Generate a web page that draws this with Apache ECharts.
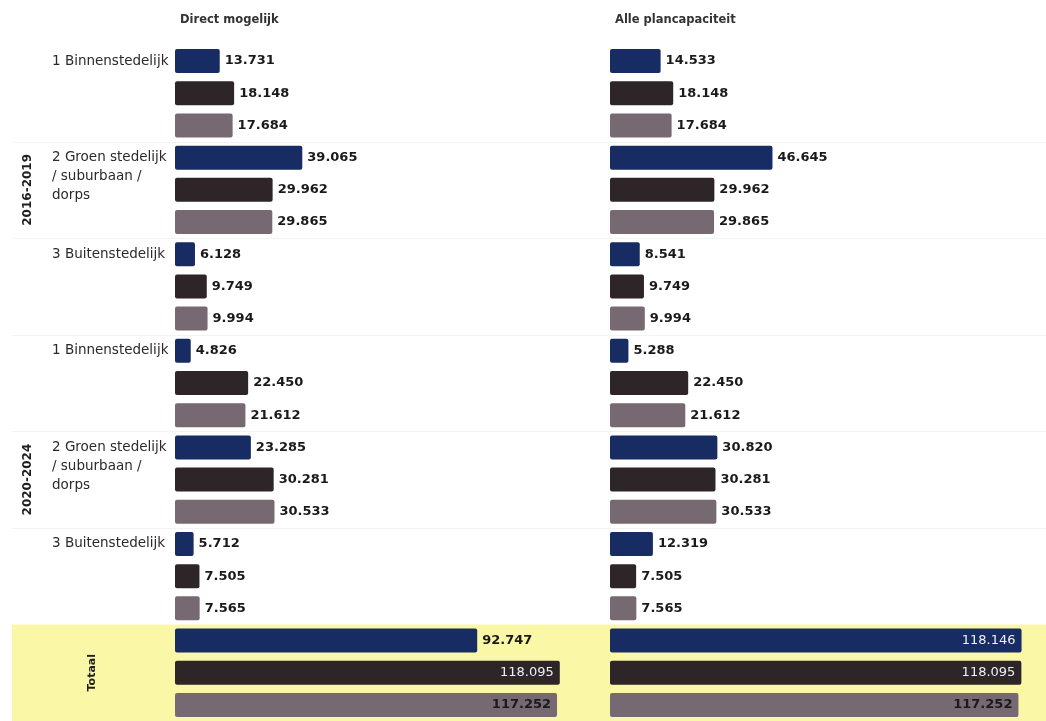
<!DOCTYPE html>
<html>
<head>
<meta charset="utf-8">
<script src="https://cdn.jsdelivr.net/npm/echarts@6/dist/echarts.min.js"></script>
<style>
  html, body { margin: 0; padding: 0; background: #ffffff; }
  #chart { width: 1046px; height: 721px; }
</style>
</head>
<body>
<div id="chart"></div>
<script>
// Perioden en woonmilieus (rijgroepen)
const periods = ['2016-2019', '2020-2024'];
const totalLabel = 'Totaal';
const woonmilieus = ['1 Binnenstedelijk', '2 Groen stedelijk\n/ suburbaan /\ndorps', '3 Buitenstedelijk'];
const panelTitles = ['Direct mogelijk', 'Alle plancapaciteit'];

// Waarden per rijgroep: 3 woonmilieus x 2 perioden, daarna het totaal
const directBlue  = [13731, 39065, 6128, 4826, 23285, 5712, 92747];
const directDark  = [18148, 29962, 9749, 22450, 30281, 7505, 118095];
const directMauve = [17684, 29865, 9994, 21612, 30533, 7565, 117252];
const planBlue    = [14533, 46645, 8541, 5288, 30820, 12319, 118146];
const planDark    = [18148, 29962, 9749, 22450, 30281, 7505, 118095];
const planMauve   = [17684, 29865, 9994, 21612, 30533, 7565, 117252];

const barColors = ['#162c62', '#2d2527', '#766971'];
// Totaalbalken met het label binnen de balk
const insideTotal = [[false, true, true], [true, true, true]];

const FONT = 'DejaVu Sans';
const groupCount = periods.length * woonmilieus.length + 1;
const rowCount = groupCount * 3;
const rows = Array.from({ length: rowCount }, (_, i) => 'r' + i);

function fmt(v) {
  return String(v).replace(/\B(?=(\d{3})+(?!\d))/g, '.');
}

function rowLabel(index) {
  if (index % 3 !== 0) return '';
  const g = Math.floor(index / 3);
  if (g >= periods.length * woonmilieus.length) return '';
  const name = woonmilieus[g % woonmilieus.length];
  const lines = name.split('\n').length;
  // extra lege regels zodat de eerste regel op de balk uitlijnt
  return '\n'.repeat(lines - 1) + name;
}

const panels = [
  { values: [directBlue, directDark, directMauve], left: 175, width: 391 },
  { values: [planBlue, planDark, planMauve], left: 610, width: 418 }
];

const grids = panels.map(p => ({ left: p.left, width: p.width, top: 45, height: 679 }));

const xAxes = panels.map((p, i) => ({
  type: 'value', gridIndex: i, min: 0, max: 120000, show: false
}));

const yAxes = panels.map((p, i) => ({
  type: 'category', gridIndex: i, data: rows, inverse: true,
  axisLine: { show: false }, axisTick: { show: false }, splitLine: { show: false },
  axisLabel: i === 0 ? {
    show: true, interval: 0, align: 'left', margin: 123,
    fontFamily: FONT, fontSize: 13.5, color: '#2a2a2a', lineHeight: 19,
    formatter: (v, idx) => rowLabel(idx)
  } : { show: false }
}));

const series = [];
panels.forEach((p, pi) => {
  p.values.forEach((vals, k) => {
    const data = rows.map((_, i) => {
      if (i % 3 !== k) return '-';
      const g = Math.floor(i / 3);
      const v = vals[g];
      if (g === groupCount - 1 && insideTotal[pi][k]) {
        const bold = k === 2;
        return {
          value: v,
          label: {
            position: 'insideRight', distance: 6,
            color: bold ? '#1a1a1a' : '#eef0f4',
            fontWeight: bold ? 'bold' : 'normal'
          }
        };
      }
      return v;
    });
    series.push({
      type: 'bar', xAxisIndex: pi, yAxisIndex: pi,
      data: data, barWidth: 24, barGap: '-100%',
      itemStyle: { color: barColors[k], borderRadius: 2 },
      label: {
        show: true, position: 'right', distance: 5,
        fontFamily: FONT, fontSize: 13, fontWeight: 'bold', color: '#1a1a1a',
        formatter: prm => fmt(prm.value)
      },
      z: 3
    });
  });
});

const chart = echarts.init(document.getElementById('chart'), null, { renderer: 'canvas' });
chart.setOption({
  animation: false,
  backgroundColor: '#ffffff',
  title: panelTitles.map((t, i) => ({
    text: t, left: panels[i].left, top: 9,
    textStyle: { fontFamily: FONT, fontSize: 11.5, fontWeight: 'bold', color: '#333' }
  })),
  grid: grids, xAxis: xAxes, yAxis: yAxes, series: series
});

// Achtergrondvlak, scheidingslijnen en periodelabels uit de rijposities
const rowY = i => chart.convertToPixel({ yAxisIndex: 0 }, rows[i]);
const pitch = rowY(1) - rowY(0);
const graphics = [];
const totalTop = rowY((groupCount - 1) * 3) - pitch / 2;
graphics.push({
  type: 'rect', z: -10, silent: true,
  shape: { x: 12, y: totalTop, width: 1046 - 12, height: 721 - totalTop + 5 },
  style: { fill: '#faf7a6' }
});
for (let g = 1; g < groupCount - 1; g++) {
  const y = Math.round(rowY(g * 3) - pitch / 2) + 0.5;
  graphics.push({
    type: 'line', z: -5, silent: true,
    shape: { x1: 12, y1: y, x2: 1046, y2: y },
    style: { stroke: '#f3f3f3', lineWidth: 1 }
  });
}
const perGroup = woonmilieus.length * 3;
periods.forEach((p, pi) => {
  const first = pi * perGroup, last = first + perGroup - 1;
  const cy = (rowY(first) + rowY(last)) / 2;
  graphics.push({
    type: 'text', x: 28, y: cy, rotation: Math.PI / 2,
    style: { text: p, fontFamily: FONT, fontSize: 12, fontWeight: 'bold', fill: '#1f1f1f',
             align: 'center', verticalAlign: 'middle' }
  });
});
{
  const first = (groupCount - 1) * 3;
  const cy = (rowY(first) + rowY(first + 2)) / 2;
  graphics.push({
    type: 'text', x: 92, y: cy, rotation: Math.PI / 2,
    style: { text: totalLabel, fontFamily: FONT, fontSize: 11, fontWeight: 'bold', fill: '#1f1f1f',
             align: 'center', verticalAlign: 'middle' }
  });
}
chart.setOption({ graphic: graphics });
</script>
</body>
</html>
